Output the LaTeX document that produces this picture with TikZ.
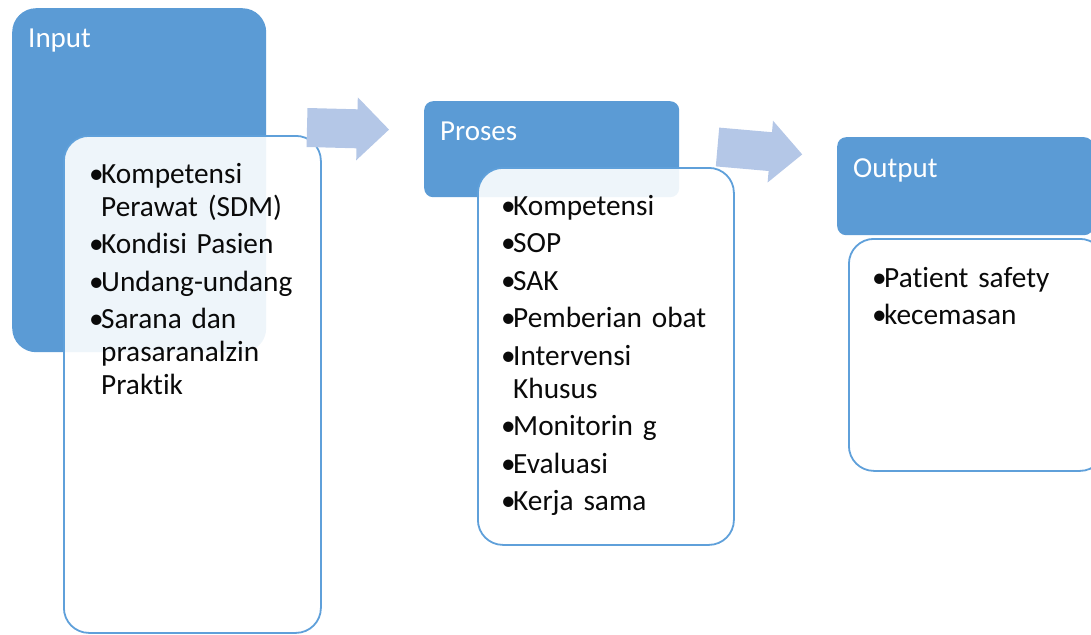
\documentclass[tikz,border=0pt]{standalone}
\usepackage{fontspec}
\setmainfont{Carlito}[Ligatures=NoCommon]
\definecolor{hdr}{HTML}{5B9BD5}
\definecolor{arw}{HTML}{B4C7E7}
\definecolor{bord}{HTML}{5FA0DA}
\definecolor{txt}{HTML}{0A0A0A}
\newlength\bulw \setlength\bulw{12pt}
\newcommand\fitem{\hangindent=\bulw\hangafter=1\makebox[\bulw][l]{\textbullet}}
\newcommand\bitem{\par\hangindent=\bulw\hangafter=1\noindent\makebox[\bulw][l]{\textbullet}}
\begin{document}
\begin{tikzpicture}[x=1pt,y=-1pt,
  header/.style={rectangle, fill=hdr, anchor=north west, inner sep=0pt},
  body/.style={rectangle, draw=bord, line width=1.8pt, fill=white, fill opacity=0.9, anchor=north west, inner sep=0pt, rounded corners=25pt},
  htext/.style={anchor=base west, inner sep=0pt, text=white, font=\fontsize{29}{33}\selectfont},
  list/.style={anchor=base west, inner sep=0pt, text width=250pt, align=left, text=txt, font=\fontsize{29.3}{33}\selectfont},
  blockarrow/.style={fill=arw}
]
\useasboundingbox (0,0) rectangle (1091,634);
\clip (0,0) rectangle (1091,634);
% Input
\node[header, minimum width=254pt, minimum height=344pt, rounded corners=24pt] (inh) at (12,8) {};
\node[body, minimum width=257pt, minimum height=497pt] (inb) at (63,135) {};
\node[htext] (int) at (28,48) {Input};
\node[list] (inl) at (89,183) {\setlength\parskip{4.5pt}%
\fitem Kompetensi\newline Perawat (SDM)
\bitem Kondisi Pasien
\bitem Undang-undang
\bitem Sarana dan\newline prasaranalzin\newline Praktik\par};
% arrow 1
\fill[blockarrow] (307.5,108.0) -- (357.5,109.3) -- (357.8,97.3) -- (389.0,129.6)
  -- (356.2,160.3) -- (356.5,148.3) -- (306.5,147.0) -- cycle;
% Proses
\node[header, minimum width=255pt, minimum height=96pt, rounded corners=9pt] (prh) at (424,101) {};
\node[body, minimum width=256pt, minimum height=377pt] (prb) at (477,167) {};
\node[htext] (prt) at (440,140) {Proses};
\node[list] (prl) at (501,215) {\setlength\parskip{4.5pt}%
\fitem Kompetensi
\bitem SOP
\bitem SAK
\bitem Pemberian obat
\bitem Intervensi\newline Khusus
\bitem Monitorin g
\bitem Evaluasi
\bitem Kerja sama\par};
% arrow 2
\fill[blockarrow] (719.2,127.6) -- (772.0,132.2) -- (773.0,120.7) -- (802.2,154.4)
  -- (767.6,182.5) -- (768.6,171.0) -- (715.8,166.4) -- cycle;
% Output
\node[header, minimum width=256pt, minimum height=98pt, rounded corners=9pt] (ouh) at (837,137) {};
\node[body, minimum width=256pt, minimum height=232pt] (oub) at (848,238) {};
\node[htext] (out) at (853,177) {Output};
\node[list] (oul) at (872,287) {\setlength\parskip{4.5pt}%
\fitem Patient safety
\bitem kecemasan\par};
\end{tikzpicture}
\end{document}
